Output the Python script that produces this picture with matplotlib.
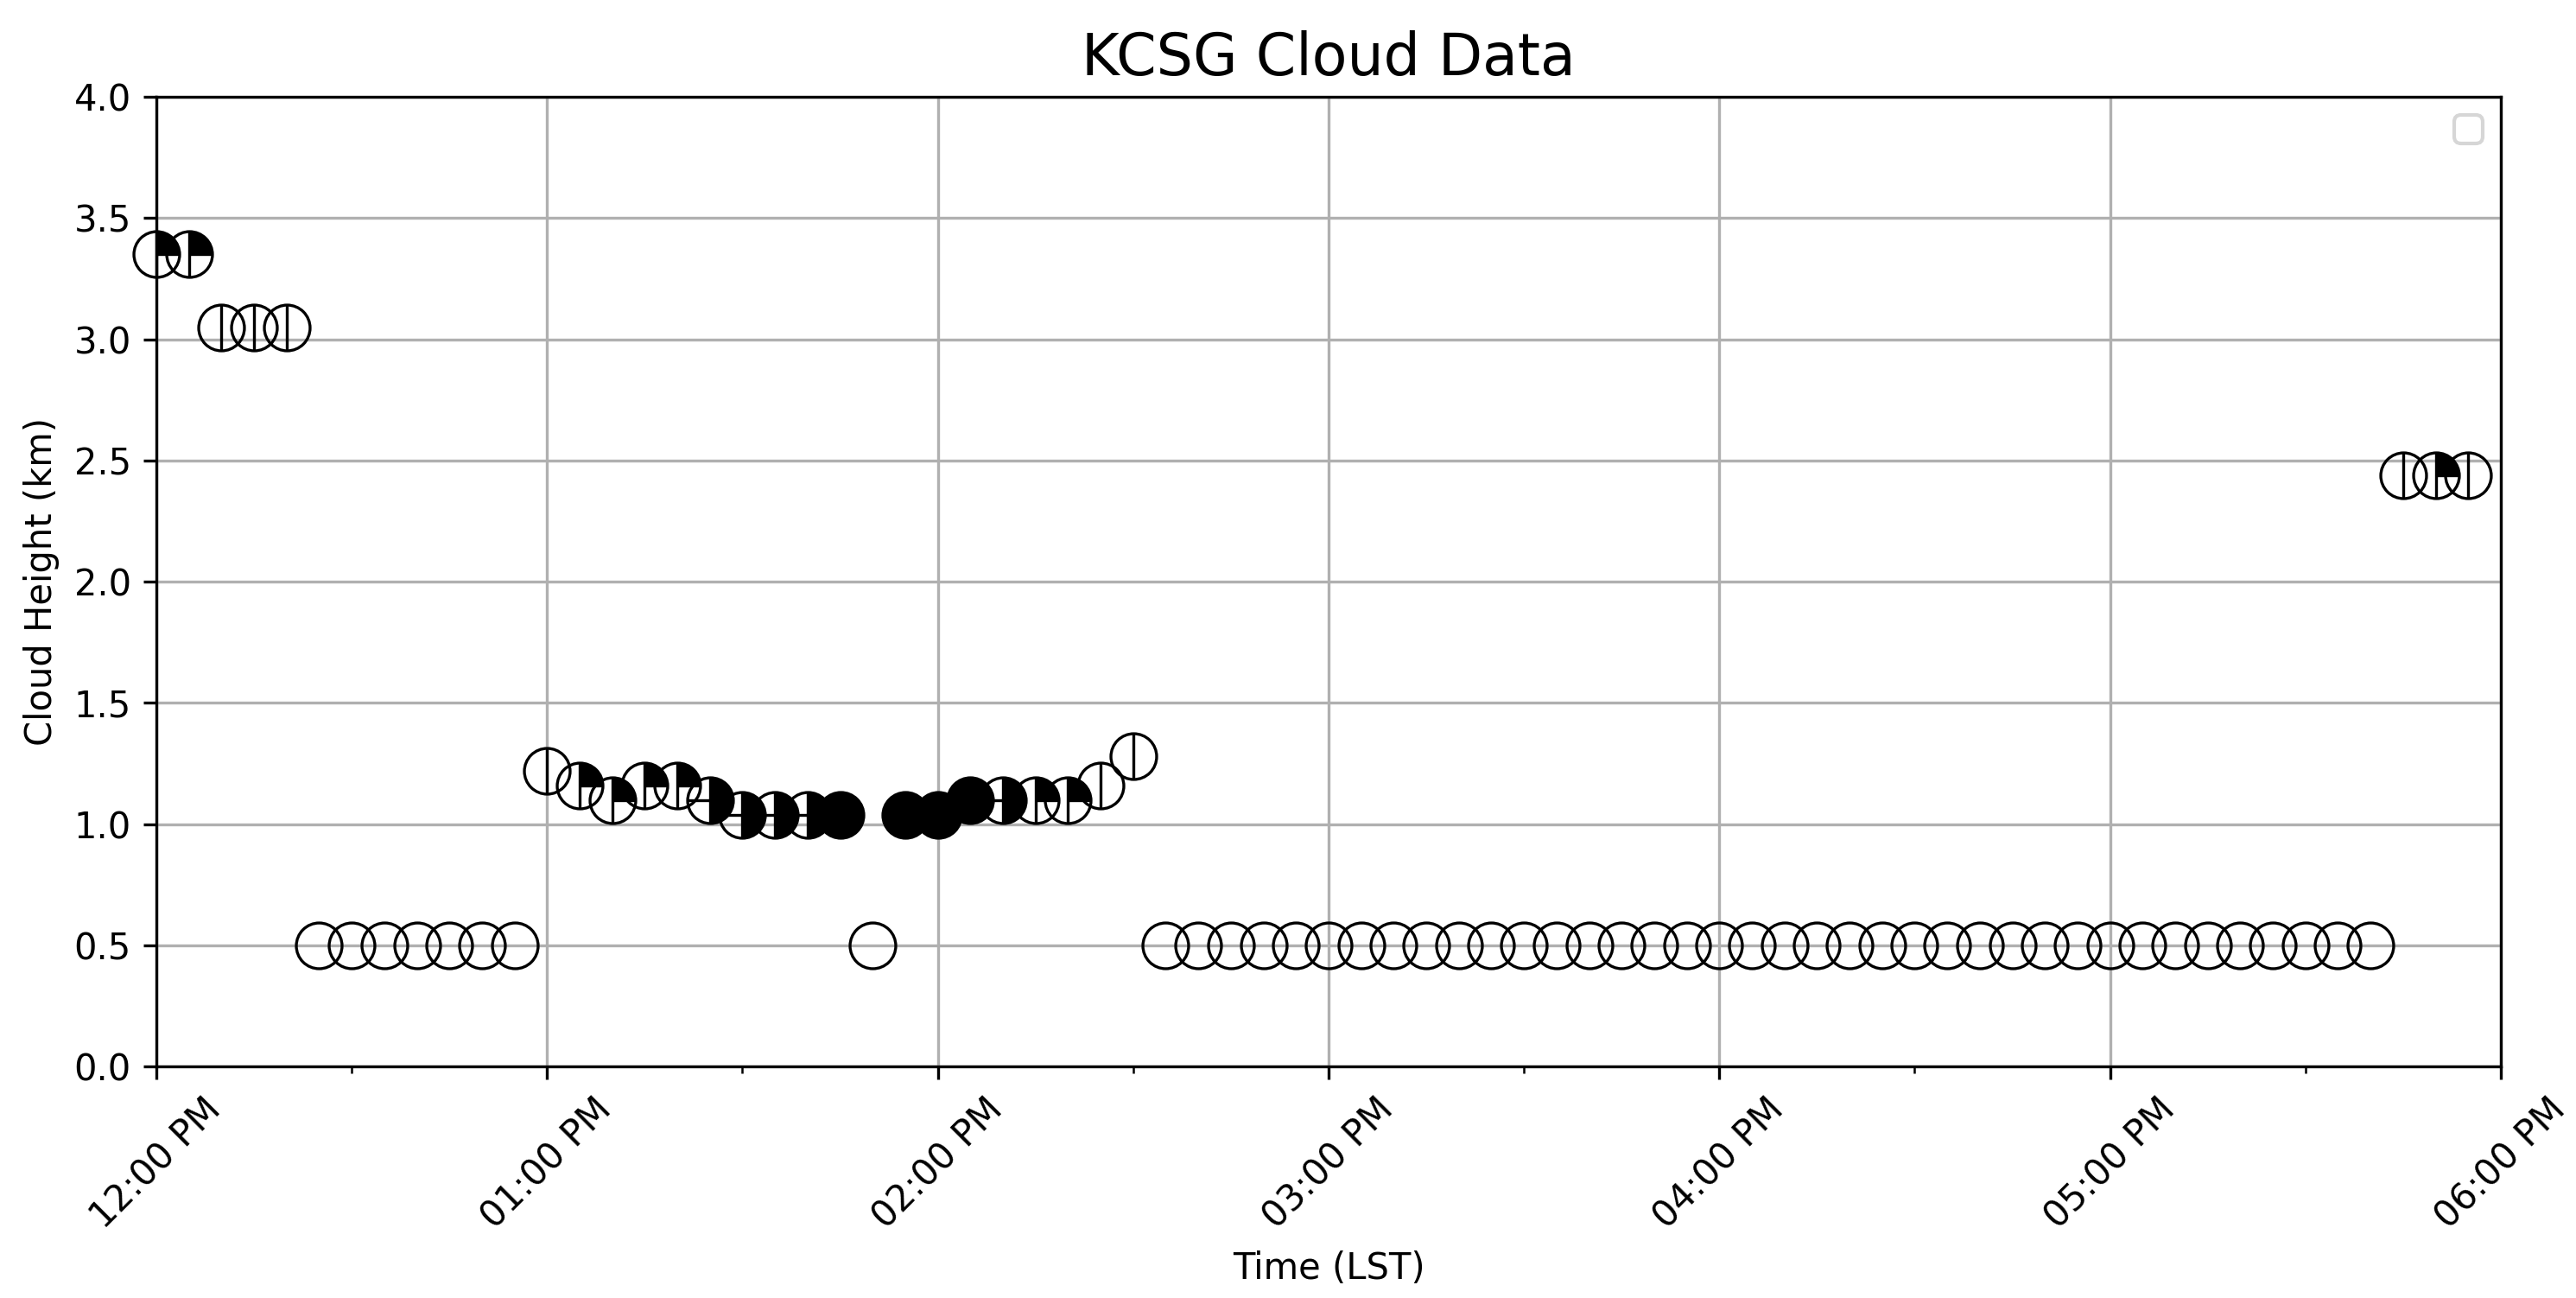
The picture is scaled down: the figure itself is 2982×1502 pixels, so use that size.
import numpy as np
import matplotlib
matplotlib.use("Agg")
import matplotlib.pyplot as plt
import matplotlib.dates as mdates
from matplotlib.path import Path
from datetime import datetime, timedelta

# Datos: una observacion cada 5 minutos, 12:00 a 17:55
start = datetime(2023, 6, 1, 12, 0)
times = [start + timedelta(minutes=5 * i) for i in range(72)]

heights = ([3.353, 3.353] + [3.048] * 3 + [0.5] * 7 +
           [1.219, 1.158, 1.097, 1.158, 1.158, 1.097,
            1.036, 1.036, 1.036, 1.036, 0.5, 1.036, 1.036,
            1.097, 1.097, 1.097, 1.097, 1.158, 1.280] +
           [0.5] * 38 + [2.438, 2.438, 2.438])

# cobertura: 0 despejado, 1 linea vertical, 2 cuarto, 4 medio, 8 cubierto
cover = ([2, 2] + [1] * 3 + [0] * 7 +
         [1, 2, 2, 2, 2, 4, 4, 4, 4, 8, 0, 8, 8, 8, 4, 2, 2, 1, 1] +
         [0] * 38 + [1, 2, 1])

# Marcadores de cobertura
M, L = Path.MOVETO, Path.LINETO
vline = Path([(0, -1), (0, 1)], [M, L])
lines_q = Path([(0, -1), (0, 1), (0, 0), (1, 0)], [M, L, M, L])
lines_h = Path([(0, -1), (0, 1), (0, 0), (-1, 0)], [M, L, M, L])
wedge_q = Path.wedge(0, 90)
wedge_h = Path.wedge(-90, 90)

ms = 12.7
lw = 0.8

fig = plt.figure(figsize=(2982 / 300, 1502 / 300), dpi=300)
ax = fig.add_axes([0.0607, 0.1784, 0.9101, 0.747])

for i, (t, h, c) in enumerate(zip(times, heights, cover)):
    x = mdates.date2num(t)
    # debajo de los ejes (spines zorder 2.5), encima de la rejilla
    kw = dict(ls='none', zorder=1 + i * 0.01, clip_on=False)
    if c == 8:
        ax.plot(x, h, marker='o', ms=ms, mfc='k', mec='k', mew=lw, **kw)
        continue
    if c == 2:
        ax.plot(x, h, marker=wedge_q, ms=ms, mfc='k', mew=0, **kw)
        ax.plot(x, h, marker=lines_q, ms=ms, mfc='none', mec='k', mew=lw, **kw)
    elif c == 4:
        ax.plot(x, h, marker=wedge_h, ms=ms, mfc='k', mew=0, **kw)
        ax.plot(x, h, marker=lines_h, ms=ms, mfc='none', mec='k', mew=lw, **kw)
    elif c == 1:
        ax.plot(x, h, marker=vline, ms=ms, mfc='none', mec='k', mew=lw, **kw)
    ax.plot(x, h, marker='o', ms=ms, mfc='none', mec='k', mew=lw, **kw)

ax.set_xlim(mdates.date2num(datetime(2023, 6, 1, 12, 0)),
            mdates.date2num(datetime(2023, 6, 1, 18, 0)))
ax.set_ylim(0, 4)
ax.xaxis.set_major_locator(mdates.HourLocator())
ax.xaxis.set_minor_locator(mdates.MinuteLocator(byminute=[30]))
ax.xaxis.set_major_formatter(mdates.DateFormatter('%I:%M %p'))
plt.setp(ax.get_xticklabels(), rotation=45)
ax.grid(True)
ax.set_axisbelow(True)

ax.set_title('KCSG Cloud Data', fontsize=16)
ax.set_xlabel('Time (LST)')
ax.set_ylabel('Cloud Height (km)')
ax.legend(handles=[], loc='upper right')

fig.savefig('out.png', dpi=300)
